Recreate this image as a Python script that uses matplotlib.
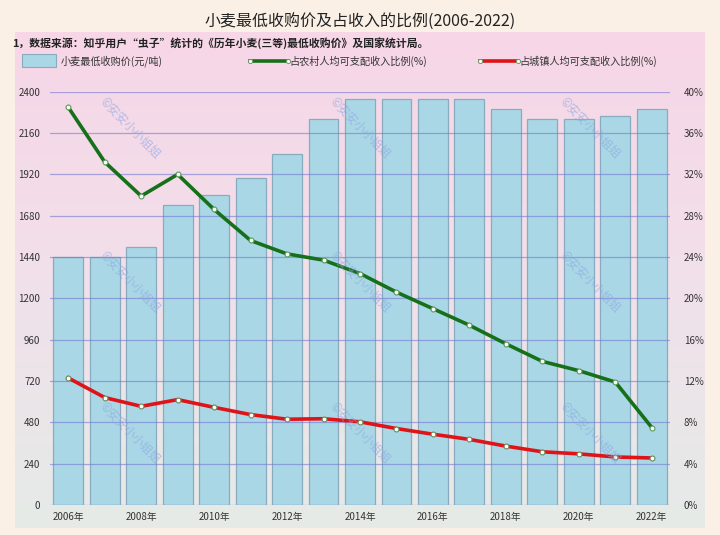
import numpy as np
import matplotlib
matplotlib.use('Agg')
import matplotlib.pyplot as plt
from matplotlib.lines import Line2D
from matplotlib.patches import Rectangle
from matplotlib.colors import LinearSegmentedColormap

plt.rcParams['font.family'] = ['Noto Sans CJK SC', 'DejaVu Sans']

years = list(range(2006, 2023))
price = [1440, 1440, 1500, 1740, 1800, 1900, 2040, 2240, 2360, 2360,
         2360, 2360, 2300, 2240, 2240, 2260, 2300]
rural = [38.5, 33.2, 29.9, 32.0, 28.6, 25.6, 24.3, 23.7, 22.4, 20.6,
         19.0, 17.4, 15.6, 13.9, 13.0, 11.9, 7.5]
urban = [12.3, 10.4, 9.55, 10.2, 9.45, 8.75, 8.3, 8.35, 8.05, 7.4,
         6.85, 6.35, 5.7, 5.15, 4.95, 4.65, 4.55]
left_ticks = list(range(0, 2401, 240))
right_ticks = list(range(0, 41, 4))
xlabels = [f'{y}年' for y in years]

title = '小麦最低收购价及占收入的比例(2006-2022)'
note = '1，数据来源：知乎用户“虫子”统计的《历年小麦(三等)最低收购价》及国家统计局。'
leg_names = ['小麦最低收购价(元/吨)', '占农村人均可支配收入比例(%)', '占城镇人均可支配收入比例(%)']

W, H = 720, 535
fig = plt.figure(figsize=(W / 100, H / 100), dpi=100, facecolor='#faf0e6')

def fx(px):
    return px / W

def fy(py):
    return 1 - py / H

# pink gradient panel
bg = fig.add_axes([fx(15), fy(528), fx(690), (528 - 32) / H], zorder=-5)
cmap = LinearSegmentedColormap.from_list('bg', ['#f7d6e7', '#f1e0ea', '#e5ebe7'])
bg.imshow(np.linspace(0, 1, 256).reshape(-1, 1), aspect='auto', cmap=cmap,
          extent=[0, 1, 0, 1])
bg.axis('off')

ax = fig.add_axes([fx(50), fy(505), fx(620), (505 - 91.7) / H])
ax.patch.set_alpha(0)
x = np.arange(len(years))
ax.bar(x, price, width=0.82, color='#aad7e5', edgecolor='#8aabbf', linewidth=0.9, zorder=1)
ax.set_xlim(-0.5, len(years) - 0.5)
ax.set_ylim(0, 2400)
ax.set_yticks(left_ticks)
ax.set_xticks(x[::2])
ax.set_xticklabels(xlabels[::2])
ax.grid(axis='y', color='#7478d0', linewidth=0.9, alpha=0.6, zorder=2)
ax.set_axisbelow(False)
for s in ax.spines.values():
    s.set_visible(False)
ax.tick_params(length=0, labelsize=7, colors='#333333')
ax.tick_params(axis='y', pad=7)
ax.tick_params(axis='x', pad=5)

ax2 = ax.twinx()
ax2.set_ylim(0, 40)
ax2.set_yticks(right_ticks)
ax2.set_yticklabels([f'{t}%' for t in right_ticks])
for s in ax2.spines.values():
    s.set_visible(False)
ax2.tick_params(length=0, labelsize=7, colors='#333333', pad=10)
ax2.plot(x, rural, color='#16701a', linewidth=2.6, marker='o', markersize=3.5,
         markerfacecolor='white', markeredgecolor='#5a9a5a', markeredgewidth=0.8, zorder=5)
ax2.plot(x, urban, color='#de1418', linewidth=2.6, marker='o', markersize=3.5,
         markerfacecolor='white', markeredgecolor='#6a8a5a', markeredgewidth=0.8, zorder=5)

# title, note
fig.text(fx(360), fy(22), title, ha='center', va='center', fontsize=11.5, color='#222222')
fig.text(fx(12), fy(43), note, ha='left', va='center', fontsize=7.8, color='#222222',
         fontweight='bold')

# legend
fig.add_artist(Rectangle((fx(22), fy(67)), fx(34), 13 / H, transform=fig.transFigure,
                         facecolor='#aad7e5', edgecolor='#8aabbf', linewidth=0.8))
fig.text(fx(61), fy(61), leg_names[0], ha='left', va='center', fontsize=7.3, color='#333333')
for x0, col, name in [(250, '#16701a', leg_names[1]), (480, '#de1418', leg_names[2])]:
    fig.add_artist(Line2D([fx(x0), fx(x0 + 38)], [fy(61), fy(61)], transform=fig.transFigure,
                          color=col, linewidth=2.6, marker='o', markersize=3,
                          markerfacecolor='white', markeredgecolor='#6a9a6a',
                          markeredgewidth=0.7))
    fig.text(fx(x0 + 39), fy(61), name, ha='left', va='center', fontsize=7.3, color='#333333')

# watermarks
for wx in (130, 360, 590):
    for wy in (128, 282, 433):
        fig.text(fx(wx), fy(wy), '©安安小小姐姐', ha='center', va='center', fontsize=8.5,
                 rotation=-45, color='#8aa6e2', alpha=0.6, zorder=10)

fig.savefig('out.png', dpi=100, facecolor=fig.get_facecolor())
